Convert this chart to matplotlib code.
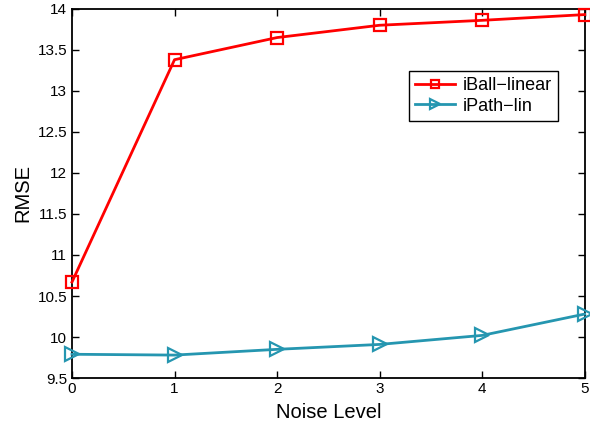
import matplotlib
matplotlib.use("Agg")
import matplotlib.pyplot as plt

noise_levels = [0, 1, 2, 3, 4, 5]
iball_linear = [10.67, 13.38, 13.65, 13.80, 13.86, 13.93]
ipath_lin = [9.79, 9.78, 9.85, 9.91, 10.02, 10.28]
y_ticks = [9.5, 10, 10.5, 11, 11.5, 12, 12.5, 13, 13.5, 14]
y_tick_labels = ['9.5', '10', '10.5', '11', '11.5', '12', '12.5', '13', '13.5', '14']

plt.rcParams['font.family'] = ['Liberation Sans', 'DejaVu Sans']

fig = plt.figure(figsize=(5.9, 4.21), dpi=100)
ax = fig.add_axes([0.122, 0.102, 0.869, 0.877])

ax.plot(noise_levels, iball_linear, color='#ff0000', linewidth=2,
        marker='s', markersize=8, markerfacecolor='none',
        markeredgewidth=1.6, label='iBall\u2212linear', clip_on=False, zorder=3)
ax.plot(noise_levels, ipath_lin, color='#2596b0', linewidth=2,
        marker='>', markersize=10, markerfacecolor='none',
        markeredgewidth=1.6, label='iPath\u2212lin', clip_on=False, zorder=3)

ax.set_xlim(0, 5)
ax.set_ylim(9.5, 14)
ax.set_xticks(noise_levels)
ax.set_yticks(y_ticks)
ax.set_yticklabels(y_tick_labels)
ax.tick_params(direction='in', top=True, right=True, labelsize=11, length=5, width=1)
ax.tick_params(axis='x', pad=3)
for s in ax.spines.values():
    s.set_linewidth(1.3)

ax.set_xlabel('Noise Level', fontsize=14.5, labelpad=5)
ax.set_ylabel('RMSE', fontsize=14.5, labelpad=4)

leg = ax.legend(loc='upper right', bbox_to_anchor=(0.965, 0.857), fontsize=13,
                fancybox=False, framealpha=1, edgecolor='black', markerscale=0.65,
                borderpad=0.35, handlelength=2.2, handletextpad=0.4, labelspacing=0.2)
leg.get_frame().set_linewidth(1.0)

fig.savefig('out.png', dpi=100)
